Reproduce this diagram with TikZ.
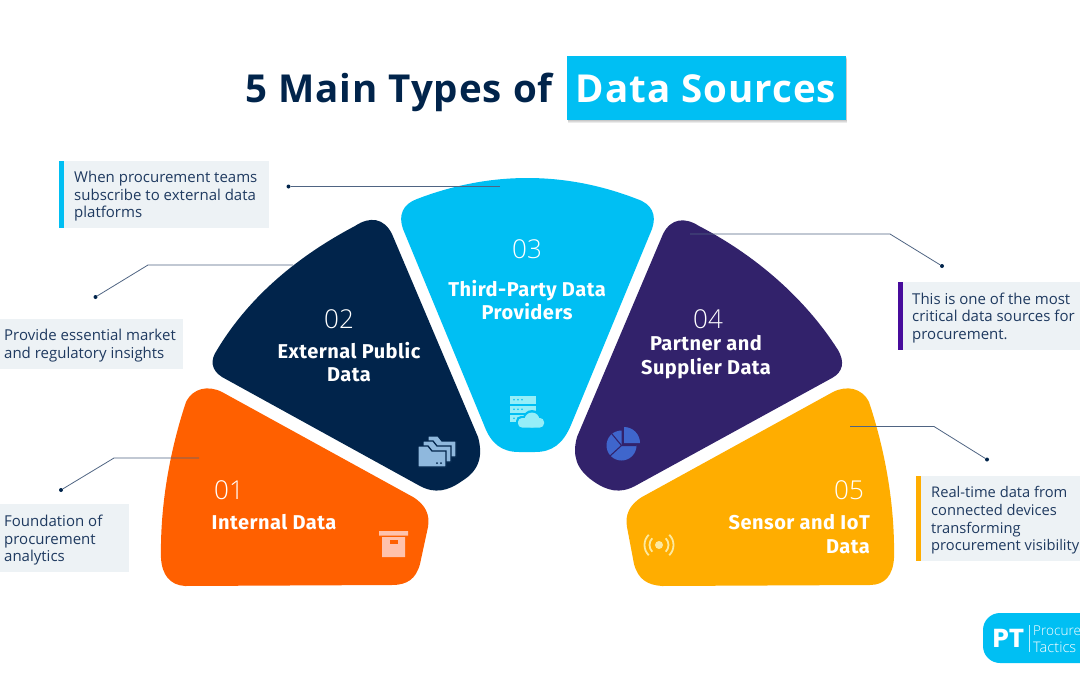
\documentclass[tikz,border=0pt]{standalone}
\usepackage{fontspec}
\setmainfont{Open Sans}
\newfontfamily\titlefont[LetterSpace=2.5]{Open Sans}
\newfontfamily\headfont[LetterSpace=2.5]{Fira Sans}
\newfontfamily\numfont{Open Sans Light}
\newfontfamily\logofont{Poppins}
\usepackage{xcolor}
\usetikzlibrary{calc,positioning}
\definecolor{navyblue}{HTML}{01244B}
\definecolor{skyblue}{HTML}{00BFF3}
\definecolor{orangered}{HTML}{FF6000}
\definecolor{deeppurple}{HTML}{32226B}
\definecolor{amber}{HTML}{FFAD00}
\definecolor{panelgrey}{HTML}{EDF2F5}
\definecolor{notetext}{HTML}{1F3A60}
\definecolor{leadergrey}{HTML}{4F6482}
\definecolor{barpurple}{HTML}{470C9C}
\definecolor{iconpeach}{HTML}{FFC2AC}
\definecolor{iconsteel}{HTML}{8FB8DD}
\definecolor{iconcyan}{HTML}{96EEF8}
\definecolor{iconroyal}{HTML}{3F66CC}
\definecolor{iconcream}{HTML}{FCE9A0}
\tikzset{
	titletext/.style={font=\titlefont\fontsize{38.5}{42}\selectfont\bfseries,inner sep=0pt,anchor=base},
	numlabel/.style={font=\numfont\fontsize{26}{28}\selectfont,text=white,inner sep=0pt},
	headlabel/.style={font=\headfont\fontsize{20}{23.5}\selectfont\bfseries,text=white,inner sep=0pt,align=center},
	notelabel/.style={font=\fontsize{15}{17.6}\selectfont,text=notetext,inner sep=0pt,align=left,anchor=north west},
	leader/.style={draw=leadergrey,line width=0.8pt},
	enddot/.style={fill=navyblue,circle,inner sep=0pt,minimum size=4pt},
	folder/.style={fill=iconsteel,draw=navyblue,line width=1.3pt},
}
\begin{document}
\begin{tikzpicture}[x=1pt,y=-1pt]
	\useasboundingbox (0,0) rectangle (1080,675);

	\fill[orangered] (186,402) .. controls (193,388) and (208,385) .. (222,392) -- (413,497) .. controls (426,505) and (430,515) .. (428,527) -- (420,564) .. controls (416,579) and (407,585) .. (392,585) -- (185,586) .. controls (170,585) and (162,575) .. (161,558) .. controls (160,505) and (170,450) .. (186,402) -- cycle;
	\fill[navyblue] (355,226) .. controls (370,216) and (384,218) .. (392,234) -- (478,437) .. controls (483,455) and (480,470) .. (462,481) .. controls (448,491) and (435,494) .. (420,486) -- (222,377) .. controls (211,370) and (210,360) .. (217,350) .. controls (250,295) and (300,255) .. (355,226) -- cycle;
	\fill[skyblue] (417,199) .. controls (490,171) and (565,171) .. (637,199) .. controls (652,204) and (657,215) .. (652,229) -- (571,425) .. controls (563,444) and (552,452) .. (535,452) -- (519,452) .. controls (502,452) and (491,444) .. (484,425) -- (403,229) .. controls (398,215) and (403,204) .. (417,199) -- cycle;
	\fill[deeppurple] (699,226) .. controls (755,255) and (805,298) .. (838,350) .. controls (845,362) and (843,372) .. (832,378) -- (635,486) .. controls (620,494) and (607,491) .. (593,481) .. controls (576,469) and (572,455) .. (577,437) -- (663,234) .. controls (671,218) and (685,217) .. (699,226) -- cycle;
	\fill[amber] (869,402) .. controls (885,450) and (895,505) .. (894,558) .. controls (893,575) and (885,585) .. (870,585) -- (662,586) .. controls (647,585) and (638,579) .. (634,564) -- (627,527) .. controls (625,515) and (629,505) .. (642,497) -- (833,392) .. controls (847,385) and (862,388) .. (869,402) -- cycle;

	\foreach \xa/\ya/\xb/\yb in {63/161/269/228,0/319/183/369,0/504/129/572,903/282/1080/350,921/476/1080/561} {
		\fill[panelgrey] (\xa,\ya) rectangle (\xb,\yb);
	}
	\fill[skyblue] (59,161) rectangle (64,228);
	\fill[barpurple] (898,282) rectangle (903,350);
	\fill[amber] (916,476) rectangle (921,561);

	\draw (399,102.5) node[titletext,text=navyblue] (titleleft) {5 Main Types of};
	\foreach \off in {1,2,3} {
		\fill[black,opacity=0.08] (567.5,56+\off) rectangle (846.5+0.3*\off,120+\off);
	}
	\node[fill=skyblue,minimum width=279pt,minimum height=64pt,inner sep=0pt] (titlebox) at (706.5,88) {};
	\draw (706,102.5) node[titletext,text=white] (titleright) {Data Sources};

	\draw (214,490) node[numlabel,anchor=west] (num01) {01};
	\draw (339,319) node[numlabel] (num02) {02};
	\draw (527,249) node[numlabel] (num03) {03};
	\draw (708,319) node[numlabel] (num04) {04};
	\draw (849,490) node[numlabel] (num05) {05};
	\draw (274,522) node[headlabel] (head01) {Internal Data};
	\draw (349,362) node[headlabel] (head02) {External Public\\Data};
	\draw (527,300) node[headlabel] (head03) {Third-Party Data\\Providers};
	\draw (706,357) node[headlabel] (head04) {Partner and\\Supplier Data};
	\draw (870,534) node[headlabel,anchor=east,align=right] (head05) {Sensor and IoT\\Data};

	\draw (4,515) node[notelabel] (note01) {Foundation of\\procurement\\analytics};
	\draw (4,329) node[notelabel] (note02) {Provide essential market\\and regulatory insights};
	\draw (74,171) node[notelabel] (note03) {When procurement teams\\subscribe to external data\\platforms};
	\draw (912,292.5) node[notelabel] (note04) {This is one of the most\\critical data sources for\\procurement.};
	\draw (931,486.5) node[notelabel,font=\fontsize{14.7}{17.6}\selectfont] (note05) {Real-time data from\\connected devices\\transforming\\procurement visibility};

	\node[enddot] (dot01) at (61,490) {};
	\node[enddot] (dot02) at (95.5,297) {};
	\node[enddot] (dot03) at (288.5,186.5) {};
	\node[enddot] (dot04) at (942,266) {};
	\node[enddot] (dot05) at (987,459.5) {};
	\coordinate (bend01) at (114,458);
	\coordinate (end01) at (199,458);
	\coordinate (bend02) at (148,265);
	\coordinate (end02) at (293,265);
	\coordinate (end03) at (500,186.5);
	\coordinate (bend04) at (890,234);
	\coordinate (end04) at (690,234);
	\coordinate (bend05) at (934,426.5);
	\coordinate (end05) at (850,426.5);
	\draw[leader] (dot01) -- (bend01) -- (end01);
	\draw[leader] (dot02) -- (bend02) -- (end02);
	\draw[leader] (dot03) -- (end03);
	\draw[leader] (dot04) -- (bend04) -- (end04);
	\draw[leader] (dot05) -- (bend05) -- (end05);

	% box
	\fill[iconpeach] (379,531) rectangle (408,535.5) (382,537) rectangle (405,557);
	\fill[orangered] (389.5,540) rectangle (398,544);
	% folders
	\foreach \idx in {2,1,0} {
		\pgfmathsetmacro{\ox}{5*\idx}
		\pgfmathsetmacro{\oy}{-5*\idx}
		\filldraw[folder] (418+\ox,446+\oy) -- (428+\ox,446+\oy) -- (432+\ox,451+\oy) -- (446+\ox,451+\oy) -- (446+\ox,467+\oy) -- (418+\ox,467+\oy) -- cycle;
	}
	\fill[navyblue] (437,463) circle (1) (441,463) circle (1);
	% server and cloud
	\foreach \ya/\yb in {396/403.5,406/412.5,414.5/422} {
		\fill[iconcyan] (510,\ya) rectangle (536,\yb);
	}
	\foreach \ya in {399.7,409.2,418.2} {
		\foreach \xa in {514,518,522} {
			\fill[skyblue] (\xa,\ya) circle (0.8);
		}
	}
	\fill[skyblue,rounded corners=5pt] (516,416) rectangle (546,429);
	\fill[skyblue] (532,419) circle (9);
	\fill[iconcyan,rounded corners=4pt] (518,418) rectangle (544,427.5);
	\fill[iconcyan] (532,420) circle (7.5);
	% pie
	\fill[iconroyal] (621.5,445.5) -- ++(0,-15) arc[start angle=90,end angle=360,x radius=15,y radius=-15] -- cycle;
	\fill[iconroyal] (624,443) -- (624,427) arc[start angle=90,end angle=0,radius=16,y radius=-16] -- cycle;
	\draw[deeppurple,line width=1.1pt] (612,434) -- (621.5,445.5) -- (636,445.5) (621.5,445.5) -- (610,456);
	% signal
	\fill[iconcream] (659,545) circle (4);
	\foreach \rad in {9.5,14.5} {
		\draw[iconcream,line width=1.8pt] ($(659,545)+(-45:\rad)$) arc[start angle=-45,end angle=45,radius=\rad];
		\draw[iconcream,line width=1.8pt] ($(659,545)+(135:\rad)$) arc[start angle=135,end angle=225,radius=\rad];
	}

	\fill[skyblue,rounded corners=17pt] (983,613) rectangle (1110,663);
	\node[text=white,inner sep=0pt,font=\logofont\fontsize{26}{28}\selectfont\bfseries] (logomark) at (1008.5,638) {PT};
	\draw[white!75!skyblue,line width=0.5pt] (1029.5,625) -- (1029.5,652);
	\node[text=white,inner sep=0pt,anchor=west,font=\numfont\fontsize{13.6}{17}\selectfont] (logoupper) at (1033,630.5) {Procure};
	\node[text=white,inner sep=0pt,anchor=west,font=\numfont\fontsize{14.6}{17}\selectfont] (logolower) at (1033,647.5) {Tactics};
\end{tikzpicture}
\end{document}
